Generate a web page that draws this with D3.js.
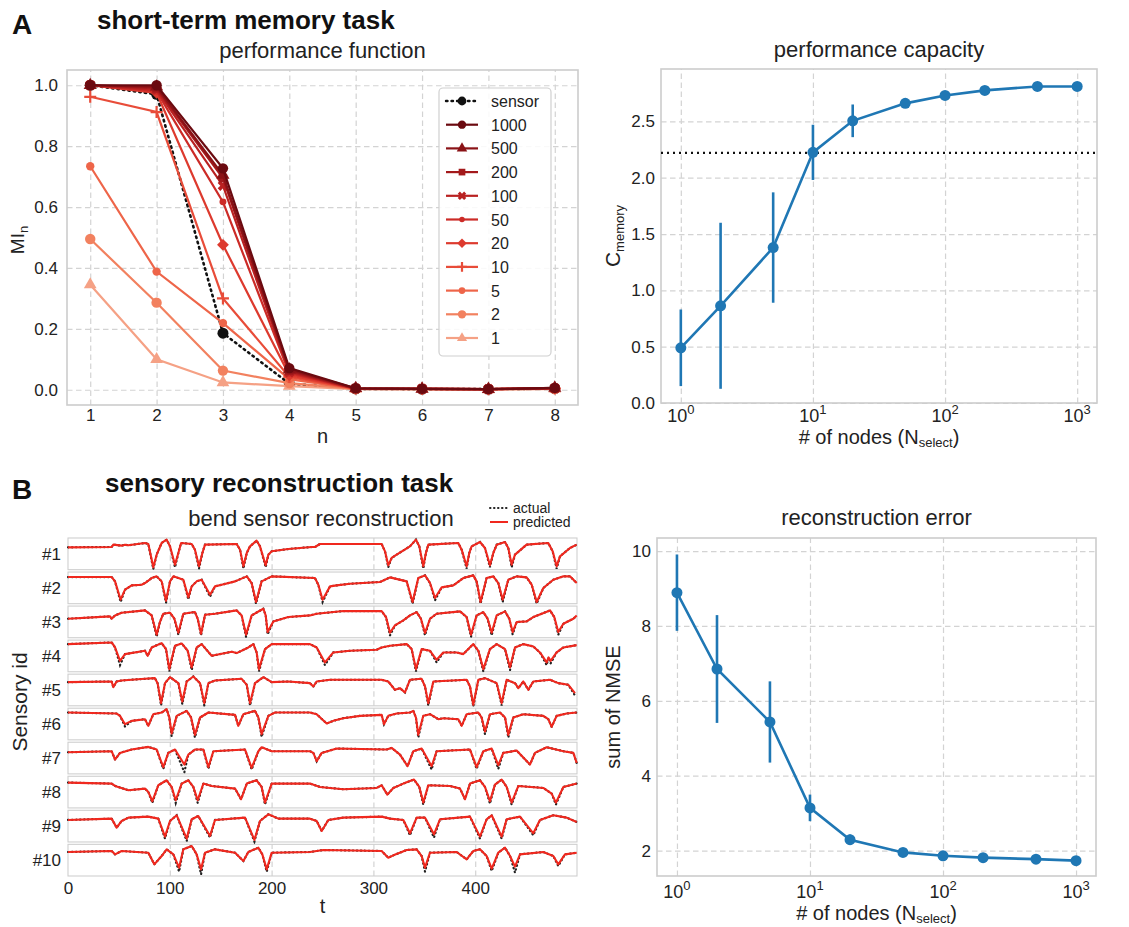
<!DOCTYPE html>
<html><head><meta charset="utf-8">
<script src="https://cdn.jsdelivr.net/npm/d3@7"></script>
<style>body{margin:0;background:#fff}</style>
</head><body>
<script>
// ---------------- DATA ----------------
const nValues = [1,2,3,4,5,6,7,8];
const seriesLabels = ["sensor","1000","500","200","100","50","20","10","5","2","1"];
const miSensor = [1.0,0.97,0.186,0.02,0.003,0.002,0.002,0.004];
const mi1000 = [1.0,1.0,0.727,0.071,0.005,0.003,0.002,0.006];
const mi500  = [1.0,0.995,0.705,0.066,0.005,0.003,0.002,0.006];
const mi200  = [1.0,0.99,0.695,0.062,0.004,0.003,0.002,0.005];
const mi100  = [1.0,0.985,0.67,0.058,0.004,0.003,0.002,0.005];
const mi50   = [1.0,0.98,0.617,0.054,0.004,0.003,0.002,0.005];
const mi20   = [1.0,0.975,0.476,0.048,0.004,0.003,0.002,0.005];
const mi10   = [0.962,0.912,0.30,0.042,0.004,0.003,0.002,0.004];
const mi5    = [0.734,0.388,0.219,0.035,0.003,0.002,0.002,0.004];
const mi2    = [0.495,0.286,0.063,0.022,0.003,0.002,0.002,0.003];
const mi1    = [0.345,0.10,0.024,0.012,0.002,0.002,0.001,0.003];
const miTicksY = [0.0,0.2,0.4,0.6,0.8,1.0];

const nodeCounts = [1,2,5,10,20,50,100,200,500,1000];
const capacityMean = [0.49,0.863,1.38,2.225,2.505,2.66,2.73,2.775,2.81,2.81];
const capacityErr  = [0.34,0.737,0.49,0.245,0.145,0.03,0.02,0.02,0.015,0.015];
const sensorCapacity = 2.22;
const capTicksY = [0.0,0.5,1.0,1.5,2.0,2.5];

const nmseMean = [8.89,6.85,5.435,3.14,2.29,1.95,1.86,1.81,1.77,1.73];
const nmseErr  = [1.02,1.44,1.085,0.355,0.14,0.05,0.05,0.04,0.04,0.04];
const nmseTicksY = [2,4,6,8,10];
const logTicks = [1,10,100,1000];

const sensorIds = ["#1","#2","#3","#4","#5","#6","#7","#8","#9","#10"];
const timeTicks = [0,100,200,300,400];
// predicted traces: flat [t, value, t, value, ...]
const predicted = [
[0,72,42.9,73,44.5,80,52.7,77,56,80,59.3,78,75.6,85,78.9,82,83.8,12,87.1,50,92,85,96.9,95,100.2,75,105.1,20,108.4,55,111.1,85,121.5,82,124.7,65,128.7,15,132,55,134.6,80,165.7,82,169,65,172.3,15,175.6,55,178.8,75,185.3,92,188.6,75,194.2,18,196.8,50,200.1,60,216.4,67,239.4,73,242.6,73,247.5,82,250.8,82,308.1,82,311.4,60,314.6,18,317.9,40,322.8,50,335.9,75,341.8,95,345.1,75,349,15,351.6,55,353.9,80,383.4,85,386.7,65,391.6,15,394.2,55,396.5,75,404.7,88,409.6,70,414.5,18,417.8,55,421.1,80,429.3,88,432.5,70,435.8,20,439.1,50,450.5,80,471.8,85,476.1,60,480,15,483.3,45,493.1,70,499.7,80],
[0,85,42.9,85,46.2,72,51.7,17,56,47,62.5,60,72.3,62,75.6,67,82.2,82,87.1,87,92,72,96.3,14,100.2,72,103.5,87,113.3,77,118.2,24,121.5,57,126.4,72,131.3,77,139.5,32,144.4,57,151,62,164.1,72,175.6,87,180.4,67,184.7,10,190.2,72,200.1,87,242.6,82,245.9,62,250.1,17,257.4,57,263.9,60,277,65,306.5,70,316.3,84,332.7,72,338.5,10,344.1,82,350.7,90,355.6,67,360.5,22,367.1,54,378.5,60,388.3,82,398.1,90,401.4,72,405.3,10,411.2,82,417.8,87,422.7,67,427,17,432.5,77,440.7,87,450.5,84,455.5,62,460.4,10,466.9,52,476.7,77,486.6,87,493.1,87,499.7,67],
[0,62,41.3,69,42.9,62,46.2,72,52.7,80,75.6,87,82.2,72,87.1,14,90.3,52,93.6,77,100.2,80,104.5,62,108.4,20,113.3,77,124.7,82,127.4,62,130.7,17,134.6,74,144.4,77,165.7,87,170.6,72,174.9,14,180.4,72,191.9,92,194.2,72,196.1,22,201.7,54,216.4,67,237.7,72,244.3,77,270.4,85,308.1,85,312.4,67,316.3,20,321.2,42,329.4,57,335.9,72,342.5,82,346.7,62,350.7,19,355.6,62,362.1,77,385.1,84,391.6,67,395.9,14,401.4,72,408,82,412.2,62,416.2,20,421.1,72,429.3,84,433.5,62,436.8,22,440.7,52,450.5,54,457.1,67,473.5,87,477.7,67,481.6,22,486.6,47,496.4,62,499.7,72],
[0,88,42.9,93,46.2,78,51.1,38,56,58,75.6,68,78.3,53,82.2,78,92,91,96.3,73,99.5,13,105.1,83,111.7,90,117.6,68,121.5,18,126.4,78,131.3,88,141.1,53,160.8,65,165.7,61,177.1,78,182.1,88,185.3,63,187.6,13,193.5,73,200.1,88,237.7,88,244.3,78,252.4,33,260.6,63,277,68,303.2,71,308.1,78,316.3,83,332.7,88,337.6,73,341.8,13,347.4,73,355.6,68,362.1,41,368.7,63,381.8,63,388.3,58,398.1,88,403.1,68,408,13,414.5,73,421.1,88,429.3,73,434.2,18,439.1,78,447.3,88,457.1,81,463.6,63,470.2,33,472.1,48,474.1,38,480,63,486.6,78,499.7,85],
[0,76,42.9,78,44.5,61,47.8,78,52.7,81,75.6,86,85.4,88,88,73,91.4,13,95.3,73,100.2,91,108.4,73,112.3,18,116.6,78,123.1,93,129.7,73,133.9,13,137.9,73,144.4,81,170.6,86,175.6,68,178.8,13,183.7,73,191.9,91,200.1,76,216.4,78,237.7,73,241,63,244.3,78,257.4,83,308.1,83,314.6,78,321.2,53,326.1,58,331,45,335.9,83,347.4,86,350.7,63,353.9,13,358.9,78,391.6,83,394.9,63,398.1,8,403.1,83,409.6,88,421.1,73,426,13,430.9,83,439.1,73,442.4,58,447.3,78,452.2,53,457.1,78,473.5,83,481.6,73,491.5,68,498,43],
[0,87,47.8,84,51.1,77,56,52,62.5,62,75.6,67,78.9,47,83.8,82,92,87,96.9,97,99.5,72,101.8,24,106.8,77,116.6,92,120.9,72,124.7,20,129.7,72,137.9,87,164.1,80,167.3,47,172.3,82,183.7,92,187,72,190.2,22,196.8,77,203.3,87,237.7,87,244.3,82,254.1,54,260.6,62,270.4,70,286.8,77,308.1,80,310.4,52,314.6,77,322.8,84,335.9,87,339.2,92,341.8,72,344.1,20,349,77,355.6,82,363.8,67,368.7,70,383.4,67,386.7,47,391.6,82,403.1,87,406.3,72,409.6,30,414.5,82,424.3,87,429.3,72,432.5,20,437.4,72,447.3,82,466.9,77,471.8,67,475.1,44,480,77,489.8,84,499.7,87],
[0,70,42.9,73,46.2,48,51.1,68,62.5,78,78.9,86,87.1,78,93.6,25,98.5,68,105.1,78,114.3,33,118.2,63,124.7,78,133,78,137.9,25,142.8,73,173.9,78,180.4,23,187,73,190.2,85,200.1,73,237.7,73,241,68,244.3,43,249.2,68,263.9,81,313,78,317.9,83,326.1,63,333.6,28,339.2,73,347.4,81,357.2,28,362.1,73,394.9,78,401.4,25,408,73,416.2,81,422.7,31,427.6,68,440.7,75,453.8,33,458.7,68,470.2,85,486.6,73,496.4,68,499.7,38],
[0,81,42.9,78,46.2,71,59.3,58,75.6,63,78.9,53,82.8,25,88.7,73,96.9,88,101.8,68,105.8,28,111.7,78,118.2,88,123.1,68,127.4,28,133,78,141.1,71,164.1,63,170,31,175.6,78,185.3,88,190.2,68,193.5,21,200.1,78,237.7,78,247.5,68,257.4,65,270.4,61,303.2,65,308.1,73,313.7,45,319.6,65,329.4,78,339.9,90,345.1,68,349,21,353.9,73,375.2,71,385.1,63,390,31,394.9,78,404.7,88,409.6,68,414.5,25,419.4,75,426,90,430.9,68,435.8,21,442.4,71,466.9,65,475.1,48,479.3,21,486.6,68,499.7,78],
[0,71,42.9,75,47.8,48,52.7,68,59.3,78,78.9,81,88.7,75,95.3,21,100.2,68,106.8,85,116.6,15,121.5,73,128,83,139.5,23,144.4,71,173.9,78,183.1,11,188.6,68,196.8,88,206.6,75,237.7,75,244.3,68,249.2,38,255.7,71,270.4,78,308.1,81,316.3,75,329.4,71,335.9,31,342.5,78,350.7,78,359.5,28,365.4,73,394.9,81,404.7,21,411.2,73,416.2,85,426,21,430.9,73,444,81,457.1,31,463.6,71,476.7,85,489.8,78,499.7,65],
[0,77,42.9,80,46.2,70,52.7,80,78.9,75,84.8,40,92,65,96.9,85,103.5,70,109.1,30,113.3,85,121.5,95,126.4,70,130.7,25,134.6,75,144.4,85,164.1,75,172.3,50,177.1,77,187,90,190.9,70,195.2,25,200.1,75,237.7,77,250.8,83,308.1,80,314.6,60,319.6,67,332.7,83,342.5,85,347.4,65,350.7,30,355.6,75,381.8,77,391.6,55,398.1,80,404.7,85,411.2,65,416.2,27,422.7,75,429.3,90,434.2,65,439.1,33,444,70,466.9,77,476.7,65,481.6,40,488.2,70,499.7,75]
];
// actual traces: where they differ from the prediction (deeper dips), flat [t, value, ...]
const actualDips = [
[83.8,7,105.1,12,128.7,8,172.3,8,194.2,12,314.6,12,349,8,391.6,8,414.5,12,435.8,12,480,8],
[51.7,10,96.3,8,118.2,18,139.5,26,184.7,5,250.1,10,338.5,5,360.5,15,405.3,5,427,10,460.4,5],
[87.1,8,108.4,14,130.7,12,174.9,8,196.1,15,316.3,12,350.7,12,395.9,8,416.2,12,436.8,15,481.6,14],
[51.1,25,99.5,6,121.5,10,187.6,6,252.4,25,341.8,6,362.1,33,408,6,434.2,10,470.2,25,474.1,30],
[91.4,6,112.3,10,133.9,6,178.8,6,353.9,6,398.1,3,426,6,498,36],
[56,45,101.8,16,124.7,12,190.2,14,344.1,12,409.6,22,432.5,12],
[93.6,20,114.3,10,137.9,20,180.4,18,357.2,18,401.4,20,422.7,20],
[82.8,20,105.8,20,127.4,20,193.5,15,349,15,414.5,18,435.8,15,479.3,15],
[95.3,15,116.6,8,139.5,18,183.1,6,335.9,25,359.5,18,404.7,15,426,15,457.1,25],
[109.1,18,130.7,10,195.2,18,350.7,18,416.2,20,439.1,15,481.6,35]
];

// ---------------- STYLE ----------------
const FONT = '"Liberation Sans", Arial, Helvetica, sans-serif';
const TXT = "#222";
const GRID = "#d3d3d3";
const FRAME = "#cccccc";
const BLUE = "#1f77b4";
const RED = "#f0281e";
const seriesColors = {"sensor":"#111","1000":"#6b0a10","500":"#8a1216","200":"#a3191b","100":"#b92121","50":"#cc2b27","20":"#dd3a2e","10":"#e84c39","5":"#ee6549","2":"#f2815f","1":"#f5a185"};

const svg = d3.select("body").append("svg").attr("width",1129).attr("height",927)
  .style("font-family",FONT);
svg.append("rect").attr("width",1129).attr("height",927).attr("fill","#fff");

function styleAxis(sel, fs){
  sel.select(".domain").remove();
  sel.selectAll(".tick line").attr("stroke",GRID).attr("stroke-width",1.2).attr("stroke-dasharray","5.5,3.5");
  sel.selectAll(".tick text").attr("fill",TXT).style("font-size",fs+"px").style("font-family",FONT);
}
function frame(x0,y0,x1,y1,sw=1.6,col=FRAME){
  svg.append("rect").attr("x",x0).attr("y",y0).attr("width",x1-x0).attr("height",y1-y0)
    .attr("fill","none").attr("stroke",col).attr("stroke-width",sw);
}
function text(x,y,s,opts={}){
  const t = svg.append("text").attr("x",x).attr("y",y).text(s).attr("fill",opts.fill||TXT)
    .style("font-size",(opts.size||17)+"px").attr("text-anchor",opts.anchor||"start");
  if(opts.bold) t.style("font-weight","bold");
  return t;
}
function logLabels(g, scale, y, fs){
  logTicks.forEach(v=>{
    const t = g.append("text").attr("x",scale(v)).attr("y",y).attr("text-anchor","middle")
      .attr("fill",TXT).style("font-size",fs+"px");
    t.append("tspan").text("10");
    t.append("tspan").attr("dy",-8).style("font-size",(fs-5)+"px").text(String(Math.round(Math.log10(v))));
  });
}
function pairs(a){ const o=[]; for(let i=0;i<a.length;i+=2) o.push([a[i],a[i+1]]); return o; }

// ---------------- HEADERS ----------------
text(12,34,"A",{size:28,bold:true,fill:"#111"});
text(97,29,"short-term memory task",{size:26,bold:true,fill:"#111"});
text(12,499,"B",{size:28,bold:true,fill:"#111"});
text(105,492,"sensory reconstruction task",{size:26,bold:true,fill:"#111"});

// ---------------- PANEL A-left: performance function ----------------
{
  const L=67,T=70,R=578,B=405;
  const x = d3.scaleLinear().domain([0.65,8.35]).range([L,R]);
  const y = d3.scaleLinear().domain([-0.05,1.05]).range([B,T]);
  svg.append("g").attr("transform",`translate(0,${B})`)
    .call(d3.axisBottom(x).tickValues(nValues).tickSize(-(B-T)).tickPadding(4).tickFormat(d3.format("d"))).call(styleAxis,17);
  svg.append("g").attr("transform",`translate(${L},0)`)
    .call(d3.axisLeft(y).tickValues(miTicksY).tickSize(-(R-L)).tickPadding(9).tickFormat(d3.format(".1f"))).call(styleAxis,17);
  frame(L,T,R,B);
  text((L+R)/2,58,"performance function",{size:22,anchor:"middle"});
  text((L+R)/2,443,"n",{size:20,anchor:"middle"});
  const yl = svg.append("text").attr("transform","translate(24,240) rotate(-90)").attr("text-anchor","middle")
    .attr("fill",TXT).style("font-size","19px");
  yl.append("tspan").text("MI");
  yl.append("tspan").attr("dy",4).style("font-size","13px").text("n");

  const seriesVals = {"sensor":miSensor,"1000":mi1000,"500":mi500,"200":mi200,"100":mi100,"50":mi50,"20":mi20,"10":mi10,"5":mi5,"2":mi2,"1":mi1};
  const markers = {
    "sensor":{t:d3.symbolCircle,s:95},"1000":{t:d3.symbolCircle,s:85},"500":{t:d3.symbolTriangle,s:75},
    "200":{t:d3.symbolSquare,s:70},"100":{t:d3.symbolCross,s:70,rot:45},"50":{t:d3.symbolCircle,s:38},
    "20":{t:d3.symbolSquare,s:70,rot:45},"10":{plus:true},"5":{t:d3.symbolCircle,s:55},
    "2":{t:d3.symbolCircle,s:85},"1":{t:d3.symbolTriangle,s:70}};
  function drawMarker(g,key,cx,cy,scale=1){
    const m = markers[key], c = seriesColors[key];
    if(m.plus){
      const r=6*scale;
      g.append("path").attr("d",`M${cx-r},${cy}H${cx+r}M${cx},${cy-r}V${cy+r}`).attr("stroke",c).attr("stroke-width",2.2);
    } else {
      g.append("path").attr("d",d3.symbol().type(m.t).size(m.s*scale*scale)())
        .attr("transform",`translate(${cx},${cy}) rotate(${m.rot||0})`).attr("fill",c);
    }
  }
  const line = d3.line().x((d,i)=>x(nValues[i])).y(d=>y(d));
  const g = svg.append("g");
  const order = ["sensor","1","2","5","10","20","50","100","200","500","1000"];
  order.forEach(k=>{
    const vals = seriesVals[k];
    const p = g.append("path").attr("d",line(vals)).attr("fill","none").attr("stroke",seriesColors[k])
      .attr("stroke-width",k==="sensor"?2.6:2.2);
    if(k==="sensor") p.attr("stroke-dasharray","1.5,4").attr("stroke-linecap","round");
    vals.forEach((v,i)=>drawMarker(g,k,x(nValues[i]),y(v)));
  });
  const lg = svg.append("g");
  lg.append("rect").attr("x",439).attr("y",88).attr("width",112).attr("height",268).attr("rx",4)
    .attr("fill","#fff").attr("fill-opacity",0.85).attr("stroke","#d0d0d0").attr("stroke-width",1.2);
  seriesLabels.forEach((k,i)=>{
    const yy = 101 + i*23.7;
    const ln = lg.append("line").attr("x1",446).attr("x2",478).attr("y1",yy).attr("y2",yy)
      .attr("stroke",seriesColors[k]).attr("stroke-width",k==="sensor"?2.4:2.2);
    if(k==="sensor") ln.attr("stroke-dasharray","1.5,4").attr("stroke-linecap","round");
    drawMarker(lg,k,462,yy,0.8);
    lg.append("text").attr("x",491).attr("y",yy+6).attr("fill",TXT).style("font-size","16px").text(k);
  });
}

// ---------------- PANEL A-right: performance capacity ----------------
{
  const L=661,T=69,R=1097,B=403;
  const x = d3.scaleLog().domain([Math.pow(10,-0.15),Math.pow(10,3.15)]).range([L,R]);
  const y = d3.scaleLinear().domain([0,2.965]).range([B,T]);
  svg.append("g").attr("transform",`translate(0,${B})`)
    .call(d3.axisBottom(x).tickValues(logTicks).tickSize(-(B-T)).tickFormat(()=>"")).call(styleAxis,17);
  logLabels(svg,x,B+19,18);
  svg.append("g").attr("transform",`translate(${L},0)`)
    .call(d3.axisLeft(y).tickValues(capTicksY).tickSize(-(R-L)).tickPadding(6).tickFormat(d3.format(".1f"))).call(styleAxis,17);
  frame(L,T,R,B);
  text((L+R)/2,57,"performance capacity",{size:22,anchor:"middle"});
  const xl = text((L+R)/2,444,"",{size:20,anchor:"middle"});
  xl.append("tspan").text("# of nodes (N");
  xl.append("tspan").attr("dy",3).style("font-size","13px").text("select");
  xl.append("tspan").attr("dy",-3).text(")");
  const yl = svg.append("text").attr("transform","translate(620,236) rotate(-90)").attr("text-anchor","middle")
    .attr("fill",TXT).style("font-size","21px");
  yl.append("tspan").text("C");
  yl.append("tspan").attr("dy",4).style("font-size","13px").text("memory");
  svg.append("line").attr("x1",L).attr("x2",R).attr("y1",y(sensorCapacity)).attr("y2",y(sensorCapacity))
    .attr("stroke","#111").attr("stroke-width",2.2).attr("stroke-dasharray","2,4");
  const g = svg.append("g");
  nodeCounts.forEach((n,i)=>{
    g.append("line").attr("x1",x(n)).attr("x2",x(n)).attr("y1",y(capacityMean[i]-capacityErr[i])).attr("y2",y(capacityMean[i]+capacityErr[i]))
      .attr("stroke",BLUE).attr("stroke-width",2.6);
  });
  g.append("path").attr("d",d3.line().x((d,i)=>x(nodeCounts[i])).y(d=>y(d))(capacityMean))
    .attr("fill","none").attr("stroke",BLUE).attr("stroke-width",2.6);
  g.selectAll("circle").data(capacityMean).join("circle").attr("cx",(d,i)=>x(nodeCounts[i])).attr("cy",d=>y(d))
    .attr("r",5.5).attr("fill",BLUE);
}

// ---------------- PANEL B-right: reconstruction error ----------------
{
  const L=657,T=538,R=1096,B=876;
  const x = d3.scaleLog().domain([Math.pow(10,-0.15),Math.pow(10,3.15)]).range([L,R]);
  const y = d3.scaleLinear().domain([1.32,10.35]).range([B,T]);
  svg.append("g").attr("transform",`translate(0,${B})`)
    .call(d3.axisBottom(x).tickValues(logTicks).tickSize(-(B-T)).tickFormat(()=>"")).call(styleAxis,17);
  logLabels(svg,x,B+22,18);
  svg.append("g").attr("transform",`translate(${L},0)`)
    .call(d3.axisLeft(y).tickValues(nmseTicksY).tickSize(-(R-L)).tickPadding(6).tickFormat(d3.format("d"))).call(styleAxis,17);
  frame(L,T,R,B);
  text((L+R)/2,525,"reconstruction error",{size:22,anchor:"middle"});
  const xl = text((L+R)/2,920,"",{size:20,anchor:"middle"});
  xl.append("tspan").text("# of nodes (N");
  xl.append("tspan").attr("dy",3).style("font-size","13px").text("select");
  xl.append("tspan").attr("dy",-3).text(")");
  svg.append("text").attr("transform","translate(620,707) rotate(-90)").attr("text-anchor","middle")
    .attr("fill",TXT).style("font-size","20px").text("sum of NMSE");
  const g = svg.append("g");
  nodeCounts.forEach((n,i)=>{
    g.append("line").attr("x1",x(n)).attr("x2",x(n)).attr("y1",y(nmseMean[i]-nmseErr[i])).attr("y2",y(nmseMean[i]+nmseErr[i]))
      .attr("stroke",BLUE).attr("stroke-width",2.6);
  });
  g.append("path").attr("d",d3.line().x((d,i)=>x(nodeCounts[i])).y(d=>y(d))(nmseMean))
    .attr("fill","none").attr("stroke",BLUE).attr("stroke-width",2.6);
  g.selectAll("circle").data(nmseMean).join("circle").attr("cx",(d,i)=>x(nodeCounts[i])).attr("cy",d=>y(d))
    .attr("r",5.5).attr("fill",BLUE);
}

// ---------------- PANEL B-left: bend sensor reconstruction ----------------
{
  const L=68,R=577,T=538,B=876;
  const x = d3.scaleLinear().domain([0,500]).range([L,R]);
  const band = d3.scaleBand().domain(sensorIds).range([T,B]).paddingInner(0.07);
  text(321,526,"bend sensor reconstruction",{size:22,anchor:"middle"});
  sensorIds.forEach((id,i)=>{
    const top = band(id), bot = top + band.bandwidth();
    const y = d3.scaleLinear().domain([5,100]).range([bot,top]);
    svg.append("g").attr("transform",`translate(0,${bot})`)
      .call(d3.axisBottom(x).tickValues(timeTicks.slice(1)).tickSize(-(bot-top)).tickFormat(()=>"")).call(styleAxis,17);
    frame(L,top,R,bot,1.1,"#cfcfcf");
    const pred = pairs(predicted[i]);
    const ov = pairs(actualDips[i]);
    const act = pred.filter(p=>!ov.some(o=>Math.abs(o[0]-p[0])<1.2)).concat(ov).sort((a,b)=>a[0]-b[0]);
    const ln = d3.line().x(d=>x(d[0])).y(d=>y(d[1]));
    svg.append("path").attr("d",ln(act)).attr("fill","none").attr("stroke","#222").attr("stroke-width",2.2)
      .attr("stroke-dasharray","0.5,3.5").attr("stroke-linecap","round");
    svg.append("path").attr("d",ln(pred)).attr("fill","none").attr("stroke",RED).attr("stroke-width",2.1)
      .attr("stroke-linejoin","round");
    text(L-7,(top+bot)/2+6,id,{size:17,anchor:"end"});
  });
  const gx = svg.append("g").attr("transform",`translate(0,${B})`)
    .call(d3.axisBottom(x).tickValues(timeTicks).tickSize(0).tickPadding(6).tickFormat(d3.format("d"))).call(styleAxis,17);
  gx.selectAll(".tick line").remove();
  text((L+R)/2,913,"t",{size:20,anchor:"middle"});
  svg.append("text").attr("transform","translate(27,702) rotate(-90)").attr("text-anchor","middle")
    .attr("fill",TXT).style("font-size","21px").text("Sensory id");
  svg.append("line").attr("x1",490).attr("x2",508).attr("y1",508).attr("y2",508).attr("stroke","#222")
    .attr("stroke-width",2).attr("stroke-dasharray","0.5,3.5").attr("stroke-linecap","round");
  text(513,513,"actual",{size:14});
  svg.append("line").attr("x1",490).attr("x2",508).attr("y1",522).attr("y2",522).attr("stroke",RED).attr("stroke-width",2);
  text(513,527,"predicted",{size:14});
}
</script>
</body></html>
